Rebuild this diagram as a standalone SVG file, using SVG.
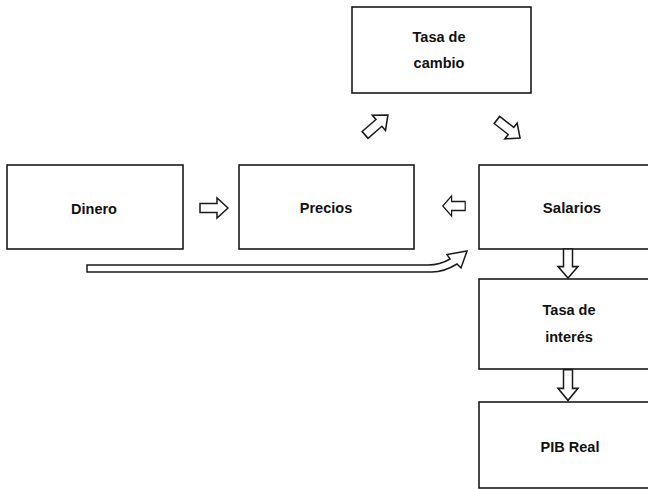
<svg xmlns="http://www.w3.org/2000/svg" width="648" height="489" viewBox="0 0 648 489">
<defs>
<style>
.box{fill:#fff;stroke:#1a1a1a;stroke-width:1.6}
.lbl{font-family:"Liberation Sans",Arial,sans-serif;font-weight:bold;font-size:14.5px;fill:#111;text-anchor:middle}
.arr{fill:#fff;stroke:#1a1a1a;stroke-width:1.5;stroke-linejoin:miter}
</style>
<path id="blk" d="M-14,-4.5 L3,-4.5 L3,-10 L14,0 L3,10 L3,4.5 L-14,4.5 Z"/>
</defs>
<rect width="648" height="489" fill="#fff"/>
<g id="n-dinero">
<rect class="box" x="7" y="165" width="176" height="84"/>
<text class="lbl" x="94" y="214">Dinero</text>
</g>
<g id="n-precios">
<rect class="box" x="239" y="165" width="175" height="84"/>
<text class="lbl" x="326" y="213">Precios</text>
</g>
<g id="n-salarios">
<rect class="box" x="479" y="165" width="190" height="84"/>
<text class="lbl" x="572" y="213" style="font-size:15px">Salarios</text>
</g>
<g id="n-tasacambio">
<rect class="box" x="352" y="7" width="179" height="86"/>
<text class="lbl" x="439" y="42">Tasa de</text>
<text class="lbl" x="439" y="68">cambio</text>
</g>
<g id="n-tasainteres">
<rect class="box" x="479" y="279" width="190" height="90"/>
<text class="lbl" x="569" y="315">Tasa de</text>
<text class="lbl" x="569" y="342">interés</text>
</g>
<g id="n-pib">
<rect class="box" x="479" y="402" width="190" height="86"/>
<text class="lbl" x="570" y="452">PIB Real</text>
</g>
<g id="connectors">
<use href="#blk" class="arr" transform="translate(214,208)"/>
<use href="#blk" class="arr" transform="translate(454,206) rotate(180) scale(0.8,1)"/>
<use href="#blk" class="arr" transform="translate(376.5,125) rotate(-41) scale(1.08,1)"/>
<use href="#blk" class="arr" transform="translate(508.5,129) rotate(38) scale(1.05,1)"/>
<use href="#blk" class="arr" transform="translate(568,263.5) rotate(90) scale(1.04,1)"/>
<use href="#blk" class="arr" transform="translate(568,385) rotate(90) scale(1.1,1)"/>
<path class="arr" d="M87,265 L428,265 Q440,265 450,259 L447,254.5 L467,251 L461,268 L457,264 Q444,272 432,272 L87,272 Z"/>
</g>
</svg>
